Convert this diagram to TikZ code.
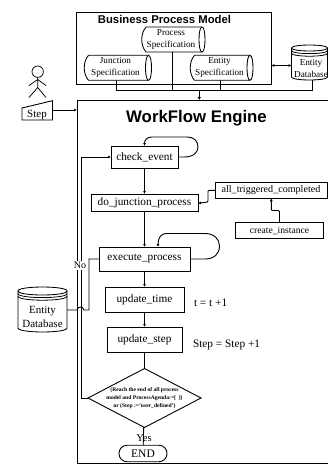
\documentclass[tikz,border=0pt]{standalone}
\usepackage{fontspec}
\setmainfont{Liberation Serif}
\setsansfont{Liberation Sans}
\usetikzlibrary{shapes.geometric,arrows.meta}
\newcommand{\hcylshape}[3]{% name, half width left, half width right (half height 12.5)
  \begin{scope}[shift={(#1.center)}]
    \draw[line width=0.85pt] ({-#2+4.5},-12.5) -- ({#3-3},-12.5) ({#3-3},12.5) -- ({-#2+4.5},12.5)
      .. controls ({-#2-1.2},6) and ({-#2-1.2},-6) .. ({-#2+4.5},-12.5);
    \draw[line width=0.85pt] ({#3-3},-12.5) .. controls ({#3+1},-12.5) and ({#3+1},12.5) .. ({#3-3},12.5)
      .. controls ({#3-7},12.5) and ({#3-7},-12.5) .. ({#3-3},-12.5);
  \end{scope}}
\newcommand{\dbshape}[4]{% name, half width, half height, ry
  \begin{scope}[shift={(#1.center)}]
    \draw[line width=0.85pt] (-#2,{-#3+#4}) -- (-#2,{#3-#4})
      .. controls (-#2,{#3+#4*0.33}) and (#2,{#3+#4*0.33}) .. (#2,{#3-#4}) -- (#2,{-#3+#4});
    \draw[line width=0.85pt] (-#2,{-#3+#4}) .. controls (-#2,{-#3-#4*0.33}) and (#2,{-#3-#4*0.33}) .. (#2,{-#3+#4})
      .. controls (#2,{-#3+#4*2.33}) and (-#2,{-#3+#4*2.33}) .. (-#2,{-#3+#4});
    \foreach \dd in {2.6,5.2}{
      \draw[line width=0.8pt] (-#2,{-#3+#4+\dd}) .. controls (-#2,{-#3+#4*2.33+\dd}) and (#2,{-#3+#4*2.33+\dd}) .. (#2,{-#3+#4+\dd});
    }
  \end{scope}}
\tikzset{
  x=1pt,y=-1pt,
  every node/.style={inner sep=0pt,outer sep=0pt,text=black},
  line/.style={draw=black,line width=0.9pt},
  flow/.style={line,-{Latex[length=3pt,width=3pt]}},
  box/.style={draw=black,line width=0.9pt,font=\fontsize{11.3}{13}\selectfont,fill=white},
  speccyl/.style={minimum height=25pt,align=center,font=\fontsize{9.2}{12.2}\selectfont},
  lab/.style={font=\fontsize{11.3}{13}\selectfont},
}
\begin{document}
\begin{tikzpicture}
\useasboundingbox (0,0) rectangle (328,469);
% frames
\node[draw=black,line width=1pt,minimum width=194.5pt,minimum height=72pt] (bpm) at (174,48) {};
\node[font=\sffamily\bfseries\fontsize{11.3}{13}\selectfont] (bpmt) at (164.5,19) {Business Process Model};
\coordinate (engTL) at (77,100);
\coordinate (engTR) at (328,100);
\coordinate (engBL) at (77,463);
\coordinate (engBR) at (328,463);
\draw[line width=1pt] (engTR) -- (engTL) -- (engBL) -- (engBR);
\coordinate (engIn) at (77,110);
\coordinate (engTop) at (199.3,100);
\node[font=\sffamily\bfseries\fontsize{16.8}{19}\selectfont] (engt) at (196.5,118) {WorkFlow Engine};
% spec cylinders
\node[speccyl,minimum width=60pt] (ps) at (171,39.5) {Process\\Specification};
\hcylshape{ps}{29.5}{34}
\node[speccyl,minimum width=60pt] (js) at (115.5,67.8) {Junction\\Specification};
\hcylshape{js}{31.5}{36}
\node[speccyl,minimum width=60pt] (es) at (219.5,67.8) {Entity\\Specification};
\hcylshape{es}{29.5}{33.5}
% entity databases
\coordinate (hub) at (199.3,90);
\node[minimum width=36pt,minimum height=35pt] (db1) at (309.5,62.5) {};
\dbshape{db1}{18}{17.5}{3}
\node[font=\fontsize{9.2}{12}\selectfont,align=center] (db1t) at (311,68.5) {Entity\\Database};
\node[minimum width=49pt,minimum height=45pt] (db2) at (42.5,309.5) {};
\dbshape{db2}{24.5}{22.5}{4}
\node[font=\fontsize{11}{14.5}\selectfont,align=center] (db2t) at (42.5,317) {Entity\\Database};
% top connectors
\draw[line] ([xshift=1pt]ps.south) -- ++(0,38) coordinate (psb);
\draw[line] ([xshift=1pt]js.south) |- (hub);
\draw[line] ([xshift=1pt]es.south) -- ++(0,10);
\draw[line] (db1.south |- 0,80) ++(3,0) |- (hub);
\draw[line width=1.2pt,-{Latex[length=3pt,width=3.5pt]}] (hub) -- (engTop);
\draw[line,{Latex[length=3pt,width=3pt]}-{Latex[length=3pt,width=3pt]}] (bpm.east |- 0,65.5) -- (db1.west |- 0,65.5);
% actor
\coordinate (hd) at (37.7,71.7);
\draw[line width=0.75pt] (hd) circle[radius=5.7];
\draw[line width=0.75pt] (37.7,77.4) -- (37.7,87.5) -- (29,97.5) (37.7,87.5) -- (46,97.5) (29,85.5) -- (37.7,79.5) -- (46,85.5);
% step
\node[font=\fontsize{11}{13}\selectfont] (step) at (37,114.7) {Step};
\draw[line width=0.9pt] (22,108) -- (52.5,100.7) -- (52.5,120) -- (22,120) -- cycle;
\coordinate (stepE) at (52.5,110);
\draw[flow] (stepE) -- (engIn);
% flow boxes
\node[box,minimum width=67pt,minimum height=22pt] (ce) at (144.5,157) {check\_event};
\node[box,minimum width=107pt,minimum height=17pt] (dj) at (144.5,202.5) {do\_junction\_process};
\node[box,font=\fontsize{10.1}{12}\selectfont,minimum width=112pt,minimum height=16pt] (at) at (271,190.3) {all\_triggered\_completed};
\node[box,font=\fontsize{9.6}{12}\selectfont,minimum width=87.5pt,minimum height=16pt] (ci) at (279.5,230.5) {create\_instance};
\node[box,minimum width=91pt,minimum height=24pt] (ep) at (144.5,259) {execute\_process};
\node[box,minimum width=79pt,minimum height=25pt] (ut) at (144.5,299.5) {update\_time};
\node[box,minimum width=75pt,minimum height=25pt] (us) at (144.5,339.5) {update\_step};
\node[draw=black,line width=0.9pt,diamond,aspect=1.9,minimum width=113pt,minimum height=59pt] (dec) at (144.5,398) {};
\node[font=\bfseries\fontsize{5.6}{8}\selectfont,align=center] (dect) at (144.5,398) {(Reach the end of all process\\model and ProcessAgenda:=[~~])\\or (Step :='user\_defined')};
\node[draw=black,line width=0.9pt,rounded corners=8pt,minimum width=48pt,minimum height=16.5pt,font=\fontsize{11.5}{13}\selectfont] (end) at (143,453.5) {END};
% flow connectors
\draw[flow] (ce) -- (dj);
\draw[flow] (dj) -- (ep);
\draw[flow] (ep) -- (ut);
\draw[flow] (ut) -- (us);
\draw[line] (us) -- (dec);
\draw[line] (dec) -- (end);
\node[font=\fontsize{10.5}{12}\selectfont] (yes) at (144,438) {Yes};
\draw[flow,rounded corners=1pt] (at.west) -- ++(-7,0) -- ++(0,11.7) -- ([yshift=-0.8pt]dj.east);
\draw[flow,rounded corners=1pt] (ci.north) -- ++(0,-12) -- (271.3,210.5) -- (at.south -| 271.3,0);
% loops
\draw[flow] (ce.east) -- (184,157) .. controls (194,157) and (198,152) .. (198,147) .. controls (198,141) and (194,137) .. (187,137) -- (152,137) .. controls (147,137) and (144.5,140) .. (144.5,146);
\draw[flow] (ep.east) -- (205,259) .. controls (214,259) and (219.5,254) .. (219.5,246) .. controls (219.5,239) and (214,233.5) .. (205,233.5) -- (166,233.5) .. controls (161,233.5) and (158,238) .. (158,247);
% No loop
\draw[flow] (dec.west) -- (81,398) -- (81,157) -- (ce.west);
\node[fill=white,inner sep=1pt,font=\fontsize{10}{12}\selectfont] (no) at (80,265.5) {No};
\draw[line] (ep.west) -- (89,259) -- (89,310) -- (84,310) .. controls (83,306) and (78,306) .. (77,310) -- (db2.east |- 0,310);
% annotations
\node[lab,anchor=west] (tt) at (194,303) {t = t +1};
\node[lab,anchor=west] (st) at (193,344.5) {Step = Step +1};
\end{tikzpicture}
\end{document}
